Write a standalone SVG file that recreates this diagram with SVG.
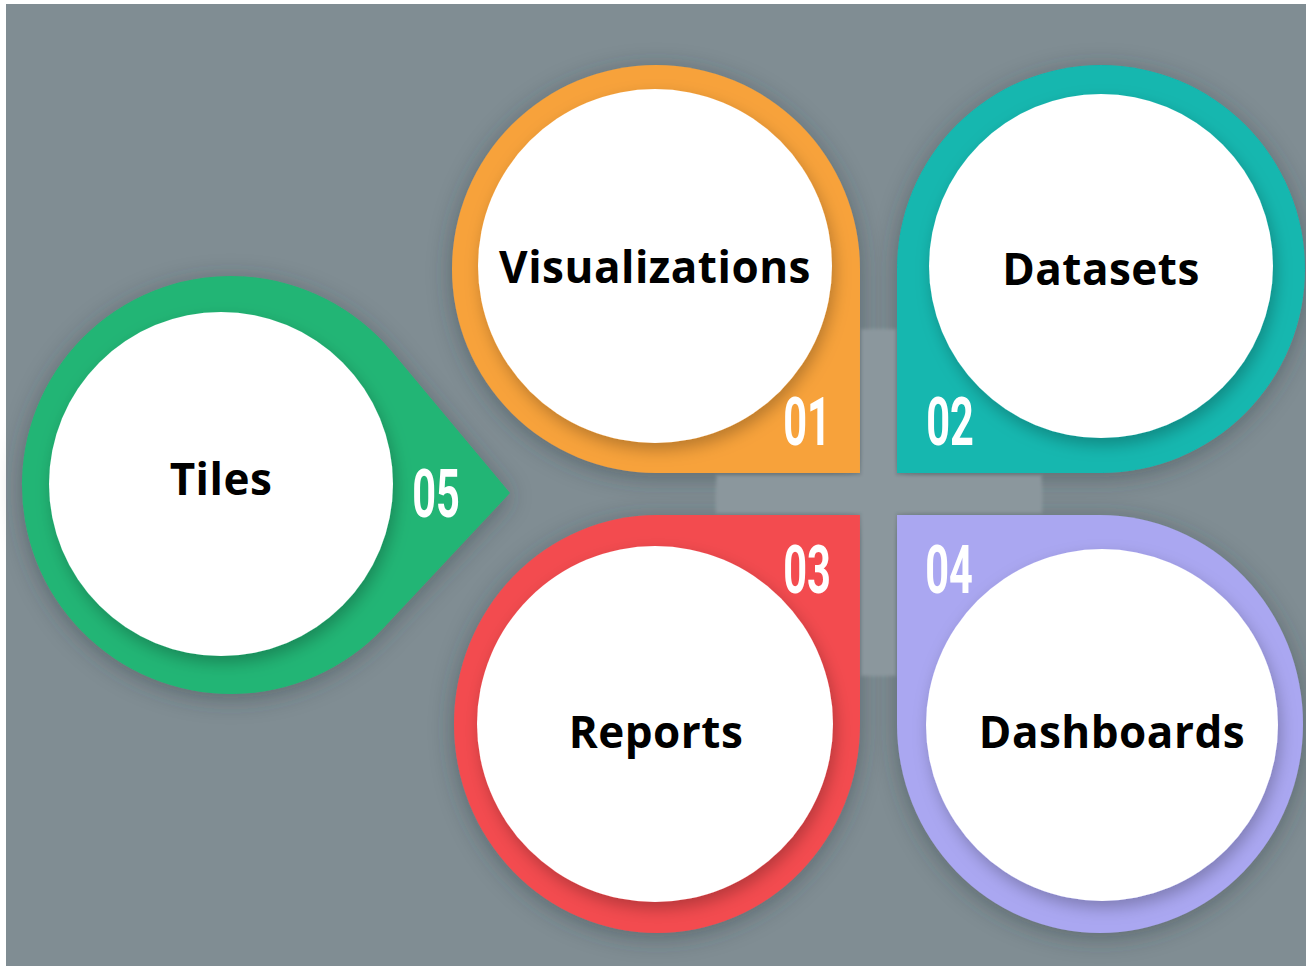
<svg xmlns="http://www.w3.org/2000/svg" width="1306" height="966" viewBox="0 0 1306 966">
  <defs>
    <filter id="outerShadow" x="-20%" y="-20%" width="140%" height="140%">
      <feDropShadow dx="0" dy="4" stdDeviation="12" flood-color="#2f3a40" flood-opacity="0.45"/>
    </filter>
    <filter id="innerShadow" x="-20%" y="-20%" width="140%" height="140%">
      <feDropShadow dx="3" dy="7" stdDeviation="8" flood-color="#000000" flood-opacity="0.25"/>
    </filter>
    <filter id="soft" x="-10%" y="-10%" width="120%" height="120%">
      <feGaussianBlur stdDeviation="1.5"/>
    </filter>
  </defs>
  <style>
    .label { font-family: "Open Sans", "Liberation Sans", sans-serif; font-weight: 700; font-size: 44px; letter-spacing: 0.5px; fill: #000000; text-anchor: middle; }
    .num { font-family: Roboto, "Liberation Sans", sans-serif; font-weight: 700; font-size: 67px; fill: #ffffff; text-anchor: middle; }
    .white { fill: #ffffff; filter: url(#innerShadow); }
    .shape { filter: url(#outerShadow); }
  </style>

  <rect x="0" y="0" width="1306" height="966" fill="#ffffff"/>
  <rect x="6" y="4" width="1300" height="962" fill="#808d93"/>

  <g id="connectors"></g>

  <g id="center-cross-under" fill="#8b979d" filter="url(#soft)">
    <rect x="860" y="328" width="37" height="349"/>
    <rect x="715" y="474" width="328" height="40"/>
  </g>

  <g id="node-01-visualizations">
    <path class="shape" d="M860,473 L860,269 A204,204 0 1 0 656,473 Z" fill="#f7a23b"/>
    <circle class="white" cx="655" cy="266" r="177"/>
    <text class="label" x="655" y="283">Visualizations</text>
    <text class="num" transform="translate(807,445) scale(0.62,1)">01</text>
  </g>

  <g id="node-02-datasets">
    <path class="shape" d="M897,473 L897,269 A204,204 0 1 1 1101,473 Z" fill="#12b7af"/>
    <circle class="white" cx="1101" cy="266" r="172"/>
    <text class="label" x="1101" y="285">Datasets</text>
    <text class="num" transform="translate(950,445) scale(0.62,1)">02</text>
  </g>

  <g id="node-03-reports">
    <path class="shape" d="M860,515 L657,515 A203,209 0 1 0 860,724 Z" fill="#f34b4f"/>
    <circle class="white" cx="655" cy="724" r="178"/>
    <text class="label" x="656" y="748">Reports</text>
    <text class="num" transform="translate(807,593) scale(0.62,1)">03</text>
  </g>

  <g id="node-04-dashboards">
    <path class="shape" d="M897,515 L1100,515 A203,209 0 1 1 897,724 Z" fill="#aaa7f1"/>
    <circle class="white" cx="1102" cy="725" r="176"/>
    <text class="label" x="1112" y="748">Dashboards</text>
    <text class="num" transform="translate(949,593) scale(0.62,1)">04</text>
  </g>

  <g id="node-05-tiles">
    <path class="shape" d="M510,493 L391.4,351.1 A209,209 0 1 0 383.5,627.9 Z" fill="#21b574"/>
    <circle class="white" cx="221" cy="484" r="172"/>
    <text class="label" x="221" y="495">Tiles</text>
    <text class="num" transform="translate(436,517) scale(0.62,1)">05</text>
  </g>

  <g id="center-cross" fill="#8b979d" filter="url(#soft)">
    <rect x="862" y="330" width="33" height="345"/>
    <rect x="717" y="476" width="324" height="36"/>
  </g>
</svg>
